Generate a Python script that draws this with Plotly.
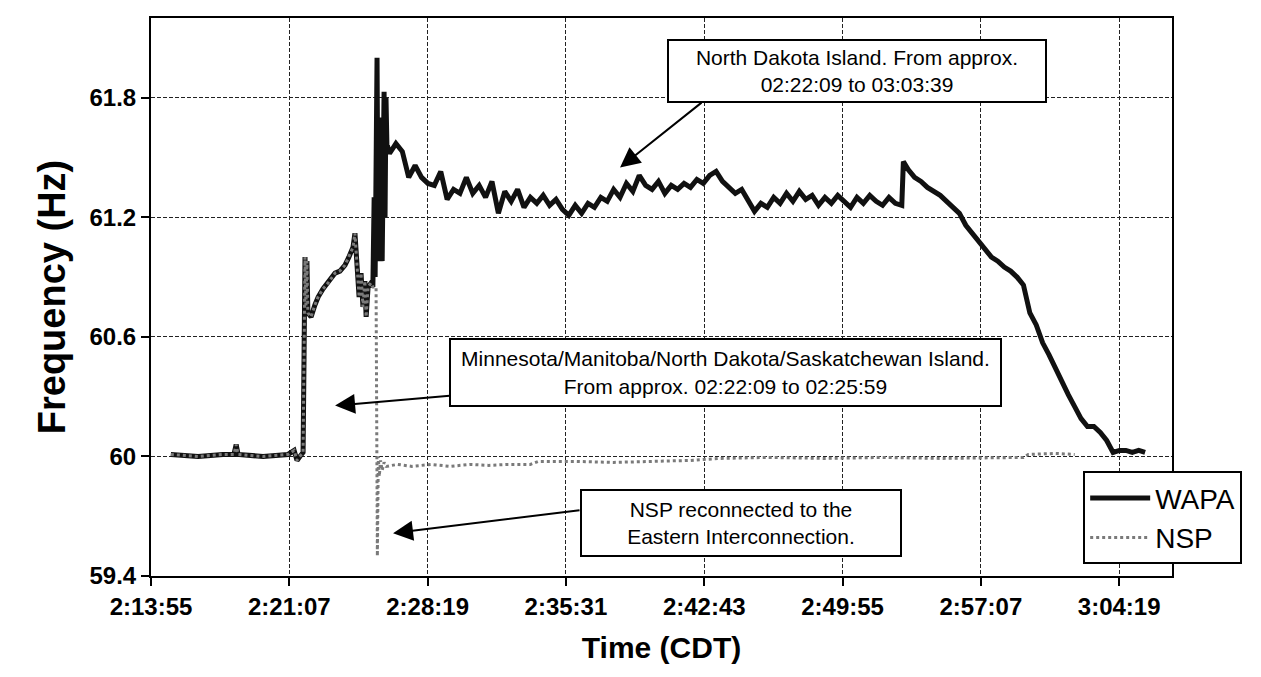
import pandas as pd
import plotly.graph_objects as go

DAY = "1998-06-25 "

# Both systems share one frequency until NSP reconnects (~02:25:40)
COMMON_TIME = ["2:14:57", "2:16:22", "2:17:40", "2:18:14", "2:18:21", "2:18:27", "2:19:45",
               "2:21:03", "2:21:22", "2:21:31", "2:21:40", "2:21:50", "2:21:53", "2:21:56",
               "2:21:59", "2:22:02", "2:22:05", "2:22:15", "2:22:27", "2:22:37", "2:22:52",
               "2:23:08", "2:23:30", "2:23:45", "2:24:01", "2:24:13", "2:24:20", "2:24:26",
               "2:24:32", "2:24:38", "2:24:45", "2:24:51", "2:24:57", "2:25:03", "2:25:07",
               "2:25:13", "2:25:22", "2:25:28"]
COMMON_HZ = [60.01, 60.00, 60.01, 60.01, 60.06, 60.01, 60.00,
             60.01, 60.03, 59.98, 60.00, 60.02, 60.50, 61.00,
             60.75, 60.98, 60.72, 60.70, 60.76, 60.80, 60.84,
             60.87, 60.92, 60.93, 60.96, 61.00, 61.03, 61.05,
             61.12, 60.98, 60.80, 60.92, 60.75, 60.88, 60.70,
             60.85, 60.87, 60.85]

# WAPA (North Dakota island) after the split
WAPA_TIME = ["2:25:32", "2:25:35", "2:25:38", "2:25:41", "2:25:44", "2:25:47", "2:25:50",
             "2:25:53", "2:25:57", "2:26:00", "2:26:03", "2:26:06", "2:26:09", "2:26:12",
             "2:26:15",
             "2:26:20", "2:26:40", "2:27:00", "2:27:20", "2:27:40", "2:28:00", "2:28:20",
             "2:28:40", "2:29:00", "2:29:20", "2:29:40", "2:30:00", "2:30:20", "2:30:40",
             "2:31:00", "2:31:20", "2:31:40", "2:32:00", "2:32:20", "2:32:40", "2:33:00",
             "2:33:20", "2:33:40", "2:34:00", "2:34:20", "2:34:40", "2:35:00", "2:35:20",
             "2:35:40", "2:36:00", "2:36:20", "2:36:40", "2:37:00", "2:37:20", "2:37:40",
             "2:38:00", "2:38:20", "2:38:40", "2:39:00", "2:39:20", "2:39:40", "2:40:00",
             "2:40:20", "2:40:40", "2:41:00", "2:41:20", "2:41:40", "2:42:00", "2:42:20",
             "2:42:40", "2:43:00", "2:43:20", "2:43:40", "2:44:00", "2:44:20", "2:44:40",
             "2:45:00", "2:45:20", "2:45:40", "2:46:00", "2:46:20", "2:46:40", "2:47:00",
             "2:47:20", "2:47:40", "2:48:00", "2:48:20", "2:48:40", "2:49:00", "2:49:20",
             "2:49:40", "2:50:00", "2:50:20", "2:50:40", "2:51:00", "2:51:20", "2:51:40",
             "2:52:00", "2:52:20", "2:52:40", "2:53:00", "2:53:05", "2:53:20", "2:53:40",
             "2:54:00", "2:54:20", "2:54:40", "2:55:00", "2:55:20", "2:55:40", "2:56:00",
             "2:56:20", "2:56:40", "2:57:00", "2:57:20", "2:57:40", "2:58:00", "2:58:20",
             "2:58:40", "2:59:00", "2:59:20", "2:59:40", "3:00:00", "3:00:20", "3:00:40",
             "3:01:00", "3:01:20", "3:01:40", "3:02:00", "3:02:20", "3:02:40", "3:03:00",
             "3:03:20", "3:03:40", "3:04:00", "3:04:20", "3:04:40", "3:05:00", "3:05:20",
             "3:05:40"]
WAPA_HZ = [61.30, 60.90, 61.60, 62.00, 61.10, 61.70, 60.98,
           61.50, 60.98, 61.60, 61.83, 61.20, 61.80, 61.55,
           61.55,
           61.52, 61.57, 61.53, 61.40, 61.46, 61.40, 61.37,
           61.36, 61.43, 61.29, 61.34, 61.32, 61.40, 61.32,
           61.36, 61.30, 61.38, 61.22, 61.33, 61.28, 61.34,
           61.25, 61.30, 61.27, 61.31, 61.26, 61.29, 61.24,
           61.21, 61.26, 61.22, 61.27, 61.25, 61.30, 61.28,
           61.34, 61.30, 61.37, 61.33, 61.41, 61.36, 61.34,
           61.38, 61.32, 61.36, 61.34, 61.37, 61.35, 61.39,
           61.37, 61.41, 61.43, 61.38, 61.35, 61.32, 61.34,
           61.28, 61.23, 61.27, 61.25, 61.30, 61.27, 61.32,
           61.28, 61.33, 61.29, 61.31, 61.26, 61.30, 61.27,
           61.31, 61.28, 61.25, 61.30, 61.27, 61.31, 61.28,
           61.26, 61.30, 61.27, 61.26, 61.48, 61.44, 61.40,
           61.38, 61.35, 61.33, 61.31, 61.28, 61.25, 61.22,
           61.16, 61.12, 61.08, 61.05, 61.00, 60.98, 60.95,
           60.93, 60.90, 60.86, 60.72, 60.66, 60.57, 60.51,
           60.44, 60.38, 60.31, 60.25, 60.19, 60.15, 60.15,
           60.12, 60.08, 60.02, 60.03, 60.03, 60.02, 60.03,
           60.02]

# NSP after reconnecting to the Eastern Interconnection
NSP_TIME = ["2:25:38", "2:25:42", "2:25:45", "2:25:48", "2:25:52", "2:25:57", "2:26:03",
            "2:26:10", "2:26:45", "2:27:30", "2:28:30", "2:29:30", "2:30:30", "2:31:30",
            "2:32:30", "2:33:40", "2:34:05", "2:36:00", "2:38:00", "2:40:00", "2:42:00",
            "2:43:30", "2:46:00", "2:49:00", "2:52:00", "2:55:00", "2:58:00", "2:59:20",
            "2:59:35", "3:01:00", "3:02:00"]
NSP_HZ = [60.85, 59.50, 60.00, 59.90, 59.98, 59.93, 59.97,
          59.95, 59.96, 59.95, 59.96, 59.95, 59.96, 59.955,
          59.96, 59.96, 59.975, 59.975, 59.97, 59.975, 59.98,
          59.99, 59.995, 59.99, 59.995, 59.99, 59.995, 59.995,
          60.01, 60.015, 60.01]

X_TICK_LABELS = ["2:13:55", "2:21:07", "2:28:19", "2:35:31", "2:42:43", "2:49:55", "2:57:07", "3:04:19"]
X_RANGE = ["2:13:55", "3:07:04"]
Y_TICKS = [59.4, 60, 60.6, 61.2, 61.8]
Y_RANGE = [59.4, 62.2]


def ts(t):
    return pd.to_datetime(DAY + t).strftime("%Y-%m-%d %H:%M:%S")


wapa_x = [ts(t) for t in COMMON_TIME + WAPA_TIME]
wapa_y = COMMON_HZ + WAPA_HZ
nsp_x = [ts(t) for t in COMMON_TIME + NSP_TIME]
nsp_y = COMMON_HZ + NSP_HZ

FONT = "Liberation Sans, Arial, sans-serif"

fig = go.Figure()
fig.add_trace(go.Scatter(x=wapa_x, y=wapa_y, mode="lines", name="WAPA", legendgroup="a",
                         line=dict(color="#111111", width=5)))
fig.add_trace(go.Scatter(x=nsp_x, y=nsp_y, mode="lines", name="NSP", legendgroup="b",
                         line=dict(color="#7a7a7a", width=3, dash="dot")))

axis_common = dict(showline=True, linecolor="black", linewidth=2, mirror=True,
                   ticks="outside", ticklen=8, tickwidth=1.5, tickcolor="black",
                   showgrid=True, gridcolor="#222222", gridwidth=1, griddash="4px,2px",
                   zeroline=False,
                   tickfont=dict(family=FONT, size=24, color="black", weight="bold"))

fig.update_xaxes(type="date", range=[ts(X_RANGE[0]), ts(X_RANGE[1])],
                 tickmode="array", tickvals=[ts(t) for t in X_TICK_LABELS], ticktext=X_TICK_LABELS,
                 title=dict(text="Time (CDT)", standoff=18,
                            font=dict(family=FONT, size=30, color="black", weight="bold")),
                 **axis_common)
fig.update_yaxes(range=Y_RANGE, tickmode="array", tickvals=Y_TICKS,
                 ticktext=["59.4", "60", "60.6", "61.2", "61.8"],
                 title=dict(text="Frequency (Hz)", standoff=12,
                            font=dict(family=FONT, size=38, color="black", weight="bold")),
                 **axis_common)

ann_font = dict(family=FONT, size=21, color="black")
box = dict(showarrow=False, xref="x", yref="y", xanchor="center", yanchor="middle",
           bgcolor="white", bordercolor="black", borderwidth=2, borderpad=3, font=ann_font)
fig.add_annotation(x=ts("2:50:40"), y=61.935, width=370, height=54,
                   text="North Dakota Island. From approx.<br>02:22:09 to 03:03:39", **box)
fig.add_annotation(x=ts("2:43:50"), y=60.4225, width=543, height=59,
                   text="Minnesota/Manitoba/North Dakota/Saskatchewan Island.<br>From approx. 02:22:09 to 02:25:59",
                   **box)
fig.add_annotation(x=ts("2:44:38"), y=59.665, width=312, height=58,
                   text="NSP reconnected to the<br>Eastern Interconnection.", **box)

arrow = dict(text="", showarrow=True, xref="x", yref="y", axref="pixel", ayref="pixel",
             arrowhead=2, arrowsize=2.0, arrowwidth=2, arrowcolor="black")
fig.add_annotation(x=ts("2:38:20"), y=61.45, ax=83, ay=-66, **arrow)
fig.add_annotation(x=ts("2:23:30"), y=60.255, ax=116, ay=-10, **arrow)
fig.add_annotation(x=ts("2:26:31"), y=59.615, ax=188, ay=-23, **arrow)

fig.update_layout(
    width=1261, height=677,
    margin=dict(l=143, r=97, t=8, b=109),
    paper_bgcolor="white", plot_bgcolor="white",
    font=dict(family=FONT, color="black"),
    showlegend=True,
    legend=dict(x=0.913, y=0.1875, xanchor="left", yanchor="top",
                bgcolor="white", bordercolor="black", borderwidth=2,
                font=dict(family=FONT, size=28, color="black"),
                itemwidth=60, tracegroupgap=8, traceorder="normal"),
)

fig.write_html("out.html")
